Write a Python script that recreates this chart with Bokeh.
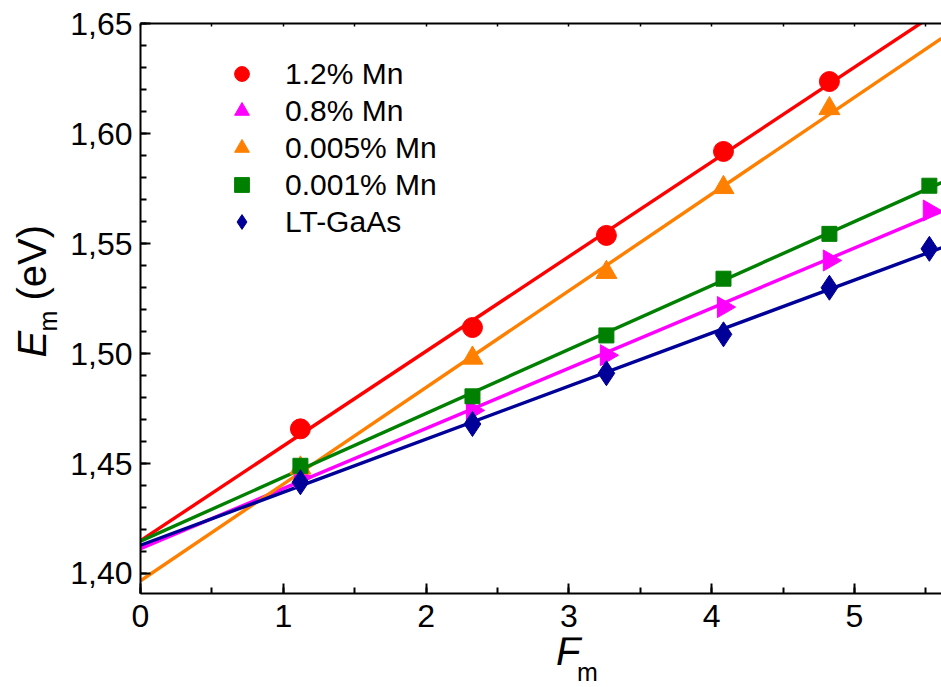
import numpy as np
from bokeh.plotting import figure
from bokeh.layouts import row, column
from bokeh.models import (Range1d, LinearAxis, SingleIntervalTicker, CustomJSTickFormatter,
                          CustomLabelingPolicy, Legend, LegendItem)
from bokeh.core.properties import value
from bokeh.embed import file_html
from bokeh.resources import INLINE

# ---- data ----
f_m = [1.12, 2.325, 3.263, 4.083, 4.825, 5.525]
mn_1_2 = [1.4658, 1.5119, 1.5538, 1.5920, 1.6238]
mn_0_8 = [1.4438, 1.4742, 1.4993, 1.5212, 1.5424, 1.5651]
mn_0_005 = [1.4480, 1.4980, 1.5370, 1.5756, 1.6115]
mn_0_001 = [1.4490, 1.4806, 1.5083, 1.5341, 1.5545, 1.5764]
lt_gaas = [1.4415, 1.4680, 1.4911, 1.5088, 1.5300, 1.5477]
series_labels = ["1.2% Mn", "0.8% Mn", "0.005% Mn", "0.001% Mn", "LT-GaAs"]

FONT = "Liberation Sans"
X0, X1 = 0.0, 5.61
Y0, Y1 = 1.3909, 1.6502

LW = 64            # left strip (y title)
W, H = 941, 687
MAIN_H = 637
BOT_H = H - MAIN_H

# ---------------- main plot ----------------
p = figure(width=W - LW, height=MAIN_H, output_backend="svg", toolbar_location=None,
           x_range=Range1d(X0, X1), y_range=Range1d(Y0, Y1),
           x_axis_type=None, y_axis_type=None,
           min_border_left=140 - LW, min_border_right=0, min_border_top=23,
           min_border_bottom=MAIN_H - 593)
p.outline_line_color = None


def style_axis(ax, standoff):
    ax.axis_line_width = 2
    ax.axis_line_color = "black"
    ax.major_tick_line_width = 2
    ax.minor_tick_line_width = 2
    ax.major_tick_line_color = "black"
    ax.minor_tick_line_color = "black"
    ax.major_tick_in = 10
    ax.major_tick_out = 0
    ax.minor_tick_in = 6
    ax.minor_tick_out = 0
    ax.major_label_text_font = FONT
    ax.major_label_text_font_size = "32px"
    ax.major_label_text_color = "black"
    ax.major_label_standoff = standoff


xaxis = LinearAxis(ticker=SingleIntervalTicker(interval=1, num_minor_ticks=2))
style_axis(xaxis, 11)
p.add_layout(xaxis, "below")

yaxis = LinearAxis(ticker=SingleIntervalTicker(interval=0.05, num_minor_ticks=5),
                   formatter=CustomJSTickFormatter(code="return tick.toFixed(2).replace('.', ',');"))
style_axis(yaxis, 8)
p.add_layout(yaxis, "left")

top = LinearAxis(ticker=SingleIntervalTicker(interval=0.5, num_minor_ticks=0),
                 major_label_policy=CustomLabelingPolicy(
                     code="for (const i of indices) indices.unset(i); return indices;"))
top.axis_line_width = 2
top.major_tick_in = 3
top.major_tick_out = 0
top.major_tick_line_width = 1.5
top.minor_tick_in = 0
top.minor_tick_out = 0
top.major_label_standoff = 0
p.add_layout(top, "above")

colors = ["#FF0000", "#FF00FF", "#FF8000", "#008000", "#000099"]
ys = [mn_1_2, mn_0_8, mn_0_005, mn_0_001, lt_gaas]
markers = [("circle", 20, 0.0), ("triangle", 21, -np.pi / 2), ("triangle", 21, 0.0),
           ("square", 15, 0.0), ("diamond", 25, 0.0)]

for yv, c in zip(ys, colors):
    xv = np.array(f_m[:len(yv)])
    slope, icpt = np.polyfit(xv, np.array(yv), 1)
    xl = np.array([X0, X1])
    p.line(xl, icpt + slope * xl, line_color=c, line_width=3.4)

items = []
for yv, c, (m, s, a), lab in zip(ys, colors, markers, series_labels):
    r = p.scatter(f_m[:len(yv)], yv, marker=m, size=s, angle=a,
                  fill_color=c, line_color=c)
    items.append(LegendItem(label=lab, renderers=[r]))

legend = Legend(items=items, location=(83, 353), glyph_width=37, glyph_height=37,
                label_height=37, spacing=0, padding=0, margin=0, label_standoff=25,
                border_line_color=None, background_fill_alpha=0,
                label_text_font=FONT, label_text_font_size="30px",
                label_text_color="black")
p.add_layout(legend)

# ---------------- y title strip ----------------
ly = figure(width=LW, height=H, output_backend="svg", toolbar_location=None,
            x_range=Range1d(0, LW), y_range=Range1d(0, H),
            x_axis_type=None, y_axis_type=None, min_border=0)
ly.outline_line_color = None
ly.grid.visible = False
ly.text(x=[31], y=[H - 357], text=["E"], angle=np.pi / 2, text_font=value(FONT),
        text_font_style="italic", text_font_size="40px", text_color="black",
        text_align="left", text_baseline="alphabetic")
ly.text(x=[47], y=[H - 331], text=["m"], angle=np.pi / 2, text_font=value(FONT),
        text_font_size="25px", text_color="black",
        text_align="left", text_baseline="alphabetic")
ly.text(x=[31], y=[H - 300], text=["(eV)"], angle=np.pi / 2, text_font=value(FONT),
        text_font_size="40px", text_color="black",
        text_align="left", text_baseline="alphabetic")

# ---------------- x title strip ----------------
lx = figure(width=W - LW, height=BOT_H, output_backend="svg", toolbar_location=None,
            x_range=Range1d(0, W - LW), y_range=Range1d(0, BOT_H),
            x_axis_type=None, y_axis_type=None, min_border=0)
lx.outline_line_color = None
lx.grid.visible = False
lx.text(x=[519 - LW], y=[H - 650], text=["F"], text_font=value(FONT),
        text_font_style="italic", text_font_size="40px", text_color="black",
        text_align="left", text_baseline="alphabetic")
lx.text(x=[542 - LW], y=[H - 671], text=["m"], text_font=value(FONT),
        text_font_size="25px", text_color="black",
        text_align="left", text_baseline="alphabetic")

layout = row(ly, column(p, lx, spacing=0), spacing=0)
open("out.html", "w").write(file_html(layout, INLINE))
